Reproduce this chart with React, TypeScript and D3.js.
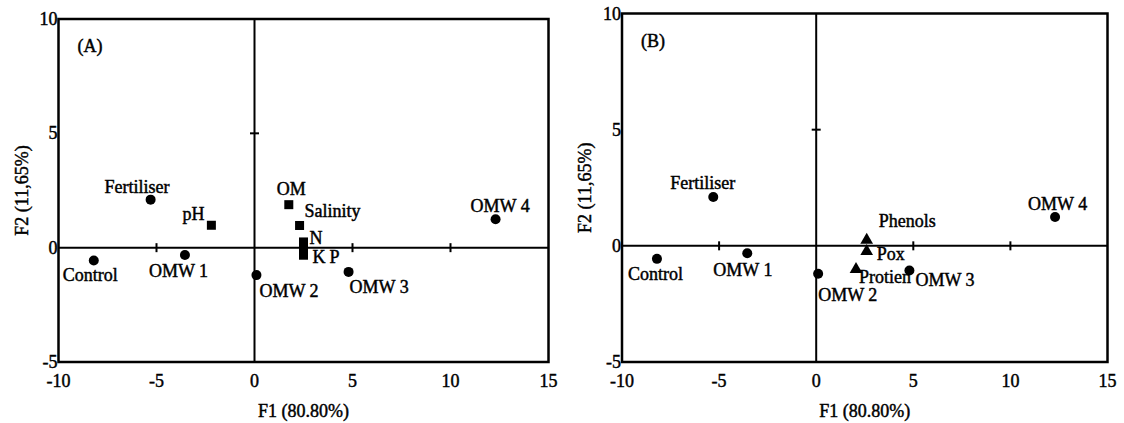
import React from "react";
import * as d3 from "d3";

// PCA scores (F1, F2)
const sampleNames = ["Control", "Fertiliser", "OMW 1", "OMW 2", "OMW 3", "OMW 4"];
const sampleF1 = [-8.2, -5.3, -3.55, 0.1, 4.8, 12.3];
const sampleF2 = [-0.56, 2.1, -0.32, -1.2, -1.06, 1.24];

const soilNames = ["pH", "OM", "Salinity", "N", "K", "P"];
const soilF1 = [-2.2, 1.75, 2.3, 2.5, 2.5, 2.5];
const soilF2 = [0.98, 1.88, 0.97, 0.25, -0.12, -0.33];

const bioNames = ["Phenols", "Pox", "Protien"];
const bioF1 = [2.6, 2.6, 2.05];
const bioF2 = [0.2, -0.28, -1.05];

const xTicks = [-10, -5, 0, 5, 10, 15];
const yTicks = [-5, 0, 5, 10];
const xInnerTicks = [-5, 5, 10];
const yInnerTicks = [5];

const FONT = '"Liberation Serif", "DejaVu Serif", serif';

// label offsets (px) from the marker, text-anchor start, y is baseline
const labelOffsetA: Record<string, [number, number]> = {
  Control: [-31, 21],
  Fertiliser: [-46, -7],
  "OMW 1": [-36, 22],
  "OMW 2": [3, 22],
  "OMW 3": [1, 21],
  "OMW 4": [-25, -7],
  pH: [-29, -5],
  OM: [-12, -10],
  Salinity: [5, -8],
  N: [6, 2],
  K: [9, 13],
  P: [26, 8],
};
const labelOffsetB: Record<string, [number, number]> = {
  Control: [-29, 21],
  Fertiliser: [-43, -8],
  "OMW 1": [-34, 23],
  "OMW 2": [0, 27],
  "OMW 3": [6, 16],
  "OMW 4": [-27, -7],
  Phenols: [12, -14],
  Pox: [10, 8],
  Protien: [3, 13],
};

type Pt = { name: string; x: number; y: number };

const zip = (names: string[], xs: number[], ys: number[]): Pt[] =>
  names.map((n, i) => ({ name: n, x: xs[i], y: ys[i] }));

function Panel(props: {
  left: number;
  right: number;
  top: number;
  bottom: number;
  tag: string;
  vars: Pt[];
  shape: "square" | "triangle";
  offsets: Record<string, [number, number]>;
}) {
  const { left, right, top, bottom, tag, vars, shape, offsets } = props;
  const x = d3.scaleLinear().domain([-10, 15]).range([left, right]);
  const y = d3.scaleLinear().domain([-5, 10]).range([bottom, top]);
  const samples = zip(sampleNames, sampleF1, sampleF2);
  const tri = d3.symbol().type(d3.symbolTriangle).size(70)();

  const label = (p: Pt) => {
    const o = offsets[p.name] || [6, -6];
    return (
      <text key={"l" + p.name} x={x(p.x) + o[0]} y={y(p.y) + o[1]}>
        {p.name}
      </text>
    );
  };

  return (
    <g>
      {/* zero lines */}
      <line x1={x(0)} x2={x(0)} y1={top} y2={bottom} stroke="#000" strokeWidth={2} />
      <line x1={left} x2={right} y1={y(0)} y2={y(0)} stroke="#000" strokeWidth={2} />
      {xInnerTicks.map((t) => (
        <line key={"xt" + t} x1={x(t)} x2={x(t)} y1={y(0) - 4.5} y2={y(0) + 4.5} stroke="#000" strokeWidth={2} />
      ))}
      {yInnerTicks.map((t) => (
        <line key={"yt" + t} x1={x(0) - 4.5} x2={x(0) + 4.5} y1={y(t)} y2={y(t)} stroke="#000" strokeWidth={2} />
      ))}
      {/* frame */}
      <rect x={left} y={top} width={right - left} height={bottom - top} fill="none" stroke="#000" strokeWidth={2.5} />
      {/* variables */}
      {vars.map((p) =>
        shape === "square" ? (
          <rect key={"m" + p.name} x={x(p.x) - 4.5} y={y(p.y) - 4.5} width={9} height={9} fill="#000" />
        ) : (
          <path key={"m" + p.name} d={tri || ""} transform={`translate(${x(p.x)},${y(p.y) - 1})`} fill="#000" />
        )
      )}
      {/* samples */}
      {samples.map((p) => (
        <circle key={"c" + p.name} cx={x(p.x)} cy={y(p.y)} r={5} fill="#000" />
      ))}
      <g style={{ fontFamily: FONT, fontSize: 18 }} fill="#000" stroke="#000" strokeWidth={0.45}>
        {xTicks.map((t) => (
          <text key={"xl" + t} x={x(t)} y={bottom + 25} textAnchor="middle">
            {t}
          </text>
        ))}
        {yTicks.map((t) => (
          <text key={"yl" + t} x={left - 1} y={y(t) + 6} textAnchor="end">
            {t}
          </text>
        ))}
        <text x={(left + right) / 2} y={417} textAnchor="middle">
          F1 (80.80%)
        </text>
        <text transform={`translate(${left - 31},${(top + bottom) / 2}) rotate(-90)`} textAnchor="middle">
          F2 (11,65%)
        </text>
        <text x={left + 19} y={top + 33}>
          {tag}
        </text>
        {samples.map(label)}
        {vars.map(label)}
      </g>
    </g>
  );
}

export default function App() {
  return (
    <svg width={1124} height={423} style={{ position: "absolute", left: 0, top: 0, background: "#fff" }}>
      <Panel
        left={58.5}
        right={548.5}
        top={19}
        bottom={362}
        tag="(A)"
        vars={zip(soilNames, soilF1, soilF2)}
        shape="square"
        offsets={labelOffsetA}
      />
      <Panel
        left={622}
        right={1107.5}
        top={13.5}
        bottom={362}
        tag="(B)"
        vars={zip(bioNames, bioF1, bioF2)}
        shape="triangle"
        offsets={labelOffsetB}
      />
    </svg>
  );
}
